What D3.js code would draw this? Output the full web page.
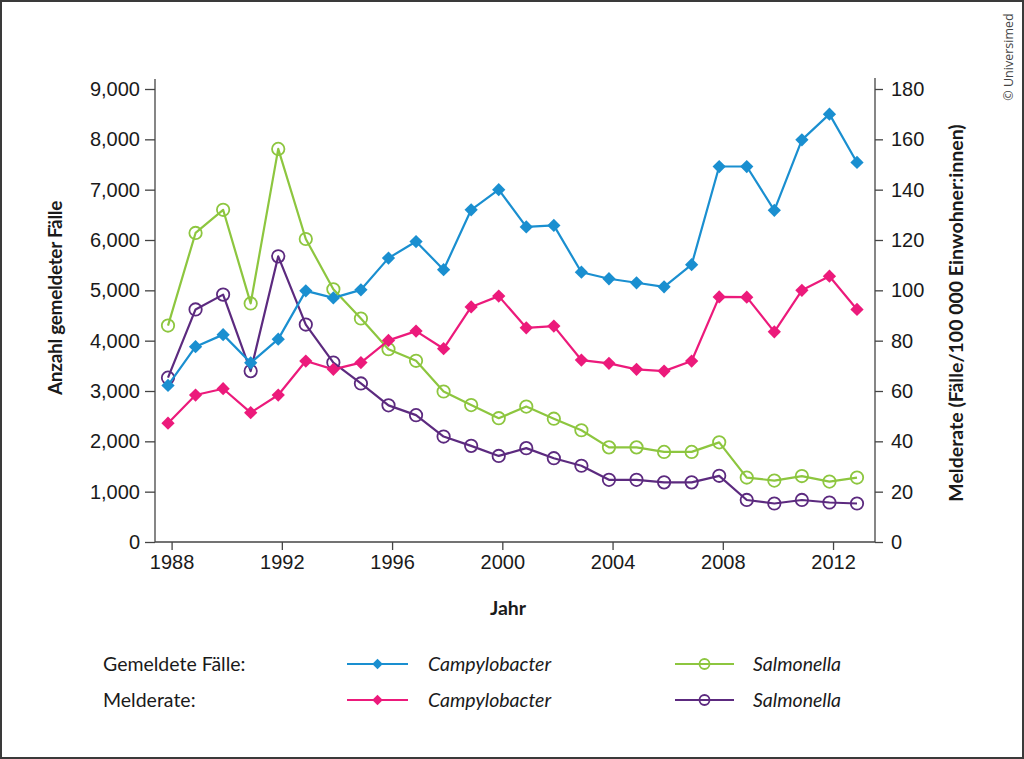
<!DOCTYPE html>
<html>
<head>
<meta charset="utf-8">
<script src="https://cdn.jsdelivr.net/npm/d3@7"></script>
<style>
  body { margin: 0; background: #fff; }
  svg { display: block; font-family: Lato, "Open Sans", sans-serif; }
  .axis text { font-size: 20px; fill: #1a1a1a; }
  .axis line, .axis path { stroke: #444; stroke-width: 1.3; }
</style>
</head>
<body>
<div id="chart"></div>
<script>
// years on the x axis
const years = [1988, 1989, 1990, 1991, 1992, 1993, 1994, 1995, 1996, 1997, 1998, 1999, 2000,
               2001, 2002, 2003, 2004, 2005, 2006, 2007, 2008, 2009, 2010, 2011, 2012, 2013];

// reported cases (left axis)
const campyCases = [3110, 3880, 4120, 3560, 4030, 4990, 4850, 5010, 5640, 5970, 5410, 6600, 7000,
                    6260, 6290, 5360, 5230, 5150, 5070, 5510, 7460, 7460, 6590, 7990, 8500, 7540];
const salmoCases = [4300, 6140, 6600, 4740, 7810, 6020, 5020, 4440, 3830, 3600, 2990, 2720, 2460,
                    2690, 2450, 2220, 1880, 1880, 1790, 1790, 1980, 1280, 1220, 1310, 1200, 1280];

// rate per 100 000 inhabitants (right axis)
const campyRate = [47.2, 58.4, 60.9, 51.4, 58.4, 71.9, 68.6, 71.3, 80.1, 83.8, 76.8, 93.4, 97.7,
                   85.1, 85.8, 72.3, 71.0, 68.6, 67.9, 71.9, 97.4, 97.3, 83.5, 100.0, 105.6, 92.4];
const salmoRate = [65.3, 92.4, 98.3, 67.9, 113.5, 86.4, 71.3, 63.0, 54.3, 50.4, 41.9, 38.2, 34.2,
                   37.3, 33.3, 30.3, 24.7, 24.7, 23.7, 23.7, 26.3, 16.7, 15.3, 16.7, 15.7, 15.3];

// tick labels
const xTicks = [1988, 1992, 1996, 2000, 2004, 2008, 2012];
const leftTicks = [0, 1000, 2000, 3000, 4000, 5000, 6000, 7000, 8000, 9000];
const rightTicks = [0, 20, 40, 60, 80, 100, 120, 140, 160, 180];

const seriesNames = ["Campylobacter", "Salmonella"];
const legendRows = ["Gemeldete Fälle:", "Melderate:"];

const W = 1024, H = 759;
const plot = { left: 155, right: 875, top: 89, bottom: 542 };

const colours = {
    campyCases: "#1a8fd0",
    salmoCases: "#8dc63f",
    campyRate: "#ec1a7b",
    salmoRate: "#5c2a7f"
};

const svg = d3.select("#chart").append("svg")
    .attr("width", W)
    .attr("height", H);

// frame
svg.append("rect")
    .attr("x", 1).attr("y", 1)
    .attr("width", W - 2).attr("height", H - 2)
    .attr("fill", "none")
    .attr("stroke", "#3a3a3a")
    .attr("stroke-width", 2);

// scales
const x = d3.scaleLinear().domain([1988, 2013]).range([168, 857]);
const yLeft = d3.scaleLinear().domain([0, 9000]).range([plot.bottom, plot.top]);
const yRight = d3.scaleLinear().domain([0, 180]).range([plot.bottom, plot.top]);

// axes
const xAxis = svg.append("g")
    .attr("class", "axis")
    .attr("transform", "translate(3.6," + plot.bottom + ")")
    .call(d3.axisBottom(x).tickValues(xTicks).tickFormat(d3.format("d"))
        .tickSize(8).tickSizeOuter(0).tickPadding(5));
xAxis.select(".domain").remove();

const leftAxis = svg.append("g")
    .attr("class", "axis")
    .attr("transform", "translate(" + plot.left + ",0)")
    .call(d3.axisLeft(yLeft).tickValues(leftTicks).tickFormat(d3.format(","))
        .tickSize(10).tickPadding(5));
leftAxis.select(".domain").remove();

const rightAxis = svg.append("g")
    .attr("class", "axis")
    .attr("transform", "translate(" + plot.right + ",0)")
    .call(d3.axisRight(yRight).tickValues(rightTicks).tickFormat(d3.format("d"))
        .tickSize(8).tickPadding(8));
rightAxis.select(".domain").remove();

// axis lines
const axisLines = svg.append("g").attr("stroke", "#444").attr("stroke-width", 1.3);
axisLines.append("line")
    .attr("x1", plot.left).attr("x2", plot.left)
    .attr("y1", plot.top - 10).attr("y2", plot.bottom);
axisLines.append("line")
    .attr("x1", plot.right).attr("x2", plot.right)
    .attr("y1", plot.top - 11).attr("y2", plot.bottom);
axisLines.append("line")
    .attr("x1", plot.left).attr("x2", plot.right)
    .attr("y1", plot.bottom).attr("y2", plot.bottom);

// axis titles
svg.append("text")
    .attr("transform", "translate(62,298) rotate(-90)")
    .attr("text-anchor", "middle")
    .attr("font-size", "19px")
    .attr("font-weight", "bold")
    .attr("letter-spacing", "-0.3px")
    .attr("fill", "#1a1a1a")
    .text("Anzahl gemeldeter Fälle");

svg.append("text")
    .attr("transform", "translate(963,313) rotate(-90)")
    .attr("text-anchor", "middle")
    .attr("font-size", "19.5px")
    .attr("font-weight", "bold")
    .attr("fill", "#1a1a1a")
    .text("Melderate (Fälle/100 000 Einwohner:innen)");

svg.append("text")
    .attr("x", 508).attr("y", 615)
    .attr("text-anchor", "middle")
    .attr("font-size", "19.5px")
    .attr("font-weight", "bold")
    .attr("fill", "#1a1a1a")
    .text("Jahr");

// copyright
svg.append("text")
    .attr("transform", "translate(1013,57) rotate(-90)")
    .attr("text-anchor", "middle")
    .attr("font-size", "12.5px")
    .attr("font-family", "'Open Sans', sans-serif")
    .attr("fill", "#444")
    .text("© Universimed");

// marker helpers
const diamond = d3.symbol().type(d3.symbolSquare);

function drawMarker(g, kind, colour, cx, cy, big) {
    if (kind === "diamond") {
        g.append("path")
            .attr("d", diamond.size(big ? 88 : 55)())
            .attr("transform", "translate(" + cx + "," + cy + ") rotate(45)")
            .attr("fill", colour);
    } else {
        g.append("circle")
            .attr("cx", cx).attr("cy", cy)
            .attr("r", big ? 6.2 : 5)
            .attr("fill", "none")
            .attr("stroke", colour)
            .attr("stroke-width", 1.8);
    }
}

function drawSeries(values, yScale, colour, kind) {
    const data = years.map((yr, i) => ({ year: yr, value: values[i] }));
    const g = svg.append("g");
    const line = d3.line()
        .x(d => x(d.year))
        .y(d => yScale(d.value));
    g.append("path")
        .datum(data)
        .attr("d", line)
        .attr("fill", "none")
        .attr("stroke", colour)
        .attr("stroke-width", 2.2)
        .attr("stroke-linejoin", "round");
    data.forEach(d => drawMarker(g, kind, colour, x(d.year), yScale(d.value), true));
}

drawSeries(salmoCases, yLeft, colours.salmoCases, "circle");
drawSeries(salmoRate, yRight, colours.salmoRate, "circle");
drawSeries(campyCases, yLeft, colours.campyCases, "diamond");
drawSeries(campyRate, yRight, colours.campyRate, "diamond");

// legend
const legend = svg.append("g").attr("font-size", "19.5px").attr("fill", "#1a1a1a");
const legendY = [664, 700];
const legendItems = [
    [{ colour: colours.campyCases, kind: "diamond" }, { colour: colours.salmoCases, kind: "circle" }],
    [{ colour: colours.campyRate, kind: "diamond" }, { colour: colours.salmoRate, kind: "circle" }]
];
const legendCols = [{ x1: 347, x2: 408, label: 428 }, { x1: 675, x2: 734, label: 753 }];

legendRows.forEach((row, r) => {
    legend.append("text")
        .attr("x", 103).attr("y", legendY[r] + 7)
        .text(row);
    legendItems[r].forEach((item, c) => {
        const col = legendCols[c];
        legend.append("line")
            .attr("x1", col.x1).attr("x2", col.x2)
            .attr("y1", legendY[r]).attr("y2", legendY[r])
            .attr("stroke", item.colour)
            .attr("stroke-width", 2.2);
        drawMarker(legend, item.kind, item.colour, (col.x1 + col.x2) / 2, legendY[r], false);
        legend.append("text")
            .attr("x", col.label).attr("y", legendY[r] + 7)
            .attr("font-style", "italic")
            .text(seriesNames[c]);
    });
});
</script>
</body>
</html>
